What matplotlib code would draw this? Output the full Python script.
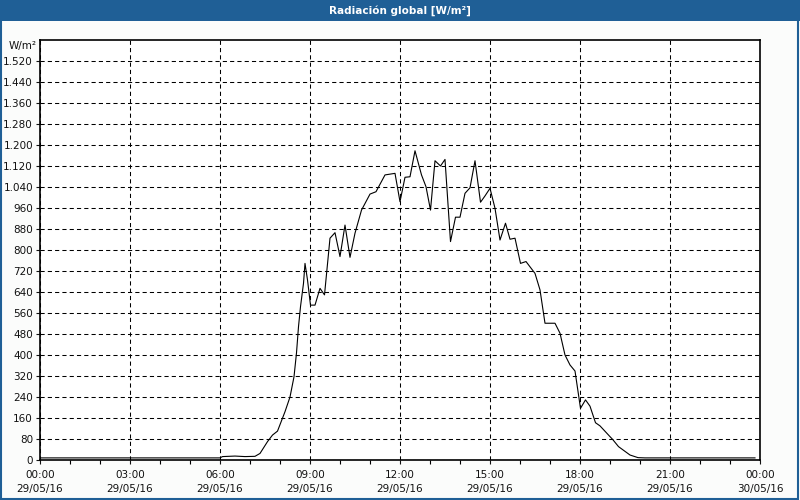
import matplotlib
matplotlib.use("Agg")
import matplotlib.pyplot as plt
from matplotlib.patches import Rectangle
from matplotlib.ticker import FixedLocator, FuncFormatter, MultipleLocator

# lecturas de radiacion global (hora local, W/m2)
times = ["00:00", "06:00", "06:05", "06:30", "06:50", "07:10", "07:20", "07:35",
         "07:45", "07:55", "08:10", "08:20", "08:28", "08:33", "08:37", "08:41",
         "08:47", "08:50", "08:55", "09:01", "09:10", "09:20", "09:29", "09:40",
         "09:50", "10:00", "10:10", "10:20", "10:30", "10:43", "11:00", "11:12",
         "11:30", "11:50", "12:00", "12:10", "12:20", "12:30", "12:43", "12:52",
         "13:01", "13:10", "13:21", "13:30", "13:41", "13:51", "14:00", "14:10",
         "14:20", "14:30", "14:41", "14:50", "15:00", "15:10", "15:20", "15:31",
         "15:40", "15:50", "16:01", "16:12", "16:30", "16:40", "16:50", "17:10",
         "17:20", "17:30", "17:40", "17:50", "18:01", "18:11", "18:20", "18:31",
         "18:40", "19:00", "19:05", "19:17", "19:40", "19:56", "20:10", "23:50"]
radiation = [8, 8, 13, 15, 13, 14, 25, 70,
             95, 110, 184, 240, 317, 408, 508, 584,
             673, 749, 686, 590, 590, 654, 629, 845,
             866, 775, 895, 772, 864, 952, 1013, 1022,
             1086, 1092, 984, 1077, 1079, 1178, 1086, 1041,
             952, 1140, 1120, 1145, 832, 925, 925, 1016,
             1037, 1140, 982, 1006, 1035, 959, 838, 902,
             841, 845, 749, 756, 711, 648, 521, 521,
             483, 400, 362, 339, 197, 229, 205, 142,
             130, 89, 79, 51, 19, 9, 8, 8]

tick_hours = [0, 3, 6, 9, 12, 15, 18, 21, 24]
tick_labels = ["00:00\n29/05/16", "03:00\n29/05/16", "06:00\n29/05/16",
               "09:00\n29/05/16", "12:00\n29/05/16", "15:00\n29/05/16",
               "18:00\n29/05/16", "21:00\n29/05/16", "00:00\n30/05/16"]

hours = [int(t[:2]) + int(t[3:]) / 60 for t in times]

plt.rcParams["font.family"] = ["DejaVu Sans"]
fig = plt.figure(figsize=(8, 5), dpi=100, facecolor="#fbfcfb")

# barra de titulo y marco
fig.patches.append(Rectangle((0, 479 / 500), 1, 21 / 500, transform=fig.transFigure,
                             facecolor="#1f5f96", edgecolor="none", zorder=0))
fig.patches.append(Rectangle((0.001, 0.002), 0.997, 0.996, transform=fig.transFigure,
                             facecolor="none", edgecolor="#1f5f96", lw=1.5, zorder=1))
fig.text(0.5, 489.5 / 500, "Radiación global [W/m²]", color="white",
         fontsize=7.5, fontweight="bold", ha="center", va="center")
fig.text(9 / 800, 454 / 500, "W/m²", fontsize=7.5, color="#111111", ha="left", va="center")

ax = fig.add_axes([40 / 800, 40 / 500, 720 / 800, 420 / 500])
ax.plot(hours, radiation, color="black", lw=0.8)

ax.set_xlim(0, 24)
ax.set_ylim(0, 1600)
ax.xaxis.set_major_locator(FixedLocator(tick_hours))
ax.set_xticklabels(tick_labels, linespacing=1.5)
ax.xaxis.set_minor_locator(MultipleLocator(1))
ax.yaxis.set_major_locator(FixedLocator(range(0, 1521, 80)))
ax.yaxis.set_major_formatter(FuncFormatter(lambda v, p: f"{int(v):,}".replace(",", ".")))

ax.tick_params(axis="both", which="major", labelsize=7.5, colors="#111111",
               length=3, width=0.8, pad=2)
ax.tick_params(axis="x", which="major", pad=4)
ax.tick_params(axis="x", which="minor", length=3, width=0.8)
ax.grid(True, which="major", color="black", lw=0.75, linestyle=(0, (4, 3)))
for s in ax.spines.values():
    s.set_linewidth(1.2)
    s.set_color("black")

fig.savefig("out.png", dpi=100, facecolor=fig.get_facecolor())
